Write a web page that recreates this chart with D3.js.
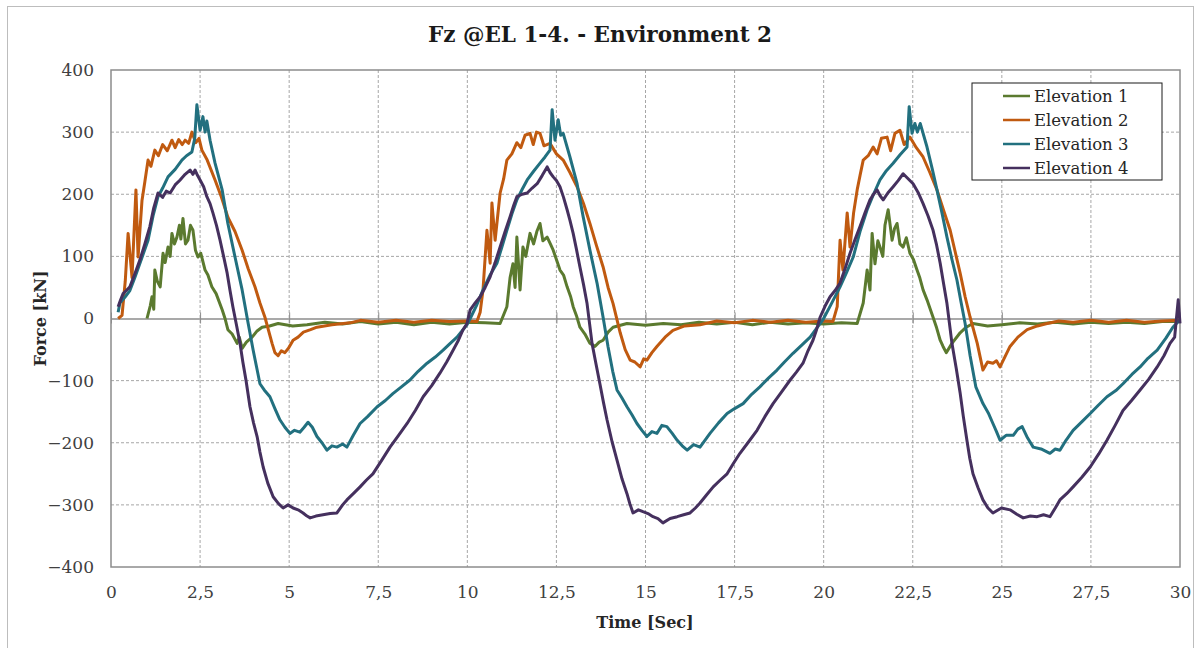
<!DOCTYPE html>
<html>
<head>
<meta charset="utf-8">
<script src="https://cdn.jsdelivr.net/npm/d3@7"></script>
<style>
  body { margin: 0; background: #fff; }
  text { font-family: "DejaVu Serif", serif; }
</style>
</head>
<body>
<script>
// Data: [time (s), force (kN)]
let elevation1 = [[1.01,0],[1.1,20],[1.15,35],[1.2,15],[1.23,78],[1.3,60],[1.38,51],[1.46,105],[1.52,90],[1.6,115],[1.66,100],[1.71,137],[1.78,120],[1.85,131],[1.92,150],[1.96,128],[2.02,161],[2.09,120],[2.16,126],[2.23,150],[2.3,142],[2.37,110],[2.44,99],[2.52,105],[2.64,78],[2.72,70],[2.83,51],[2.95,40],[3.12,14],[3.2,0],[3.28,-18],[3.4,-25],[3.54,-40],[3.6,-30],[3.68,-48],[3.8,-38],[3.96,-30],[4.1,-20],[4.24,-14],[4.45,-12],[4.69,-8],[5.1,-12],[5.5,-10],[6,-6],[6.5,-9],[7,-5],[7.5,-9],[8,-6],[8.5,-10],[9,-6],[9.5,-9],[10,-6],[10.5,-7],[10.92,-8],
  [11.11,19],[11.2,66],[11.28,88],[11.34,50],[11.39,131],[11.48,46],[11.56,115],[11.64,100],[11.76,137],[11.86,120],[11.95,140],[12.04,153],[12.12,125],[12.24,131],[12.33,120],[12.41,110],[12.5,95],[12.6,78],[12.7,70],[12.8,51],[12.9,35],[12.97,19],[13.06,5],[13.16,-14],[13.3,-25],[13.44,-40],[13.58,-45],[13.7,-38],[13.81,-35],[13.95,-22],[14.09,-14],[14.48,-8],[15,-11],[15.5,-8],[16,-10],[16.5,-6],[17,-9],[17.5,-6],[18,-10],[18.5,-6],[19,-9],[19.5,-7],[20,-9],[20.5,-7],[20.94,-8],
  [21.11,25],[21.22,78],[21.3,46],[21.36,137],[21.44,88],[21.52,125],[21.58,115],[21.66,100],[21.72,150],[21.81,175],[21.92,126],[21.99,145],[22.06,153],[22.14,120],[22.23,115],[22.32,130],[22.42,105],[22.52,95],[22.62,78],[22.7,65],[22.79,46],[22.9,30],[23.07,2],[23.17,-15],[23.27,-35],[23.35,-45],[23.44,-55],[23.6,-40],[23.83,-23],[24.0,-14],[24.19,-8],[24.6,-12],[25,-10],[25.5,-7],[26,-9],[26.5,-6],[27,-9],[27.5,-6],[28,-8],[28.5,-6],[29,-8],[29.5,-5],[30,-5]];

let elevation2 = [[0.2,0],[0.31,5],[0.4,60],[0.48,137],[0.59,66],[0.7,207],[0.76,99],[0.87,190],[0.95,220],[1.04,255],[1.12,245],[1.23,271],[1.33,262],[1.45,280],[1.58,270],[1.71,287],[1.8,275],[1.9,288],[2,280],[2.08,287],[2.18,282],[2.27,300],[2.38,283],[2.47,290],[2.55,271],[2.7,255],[2.92,223],[3.1,195],[3.28,163],[3.48,140],[3.68,110],[3.85,80],[4.04,51],[4.18,25],[4.32,2],[4.52,-40],[4.6,-55],[4.69,-60],[4.78,-52],[4.88,-55],[4.98,-48],[5.11,-35],[5.25,-30],[5.4,-22],[5.6,-18],[5.78,-14],[6.2,-10],[6.71,-7],[7,-3],[7.5,-6],[8,-3],[8.5,-6],[9,-3],[9.5,-5],[10,-4],[10.27,-5],
  [10.36,10],[10.44,46],[10.55,142],[10.64,89],[10.69,186],[10.78,126],[10.92,202],[11.02,225],[11.11,255],[11.25,265],[11.39,283],[11.5,275],[11.62,295],[11.76,298],[11.85,280],[11.94,300],[12.04,298],[12.15,278],[12.32,282],[12.5,265],[12.69,255],[12.88,235],[13.08,212],[13.26,185],[13.44,153],[13.62,118],[13.81,83],[13.95,50],[14.09,24],[14.29,-23],[14.43,-50],[14.57,-67],[14.7,-70],[14.85,-78],[14.95,-65],[15.04,-67],[15.18,-55],[15.32,-45],[15.55,-30],[15.77,-19],[16.1,-12],[16.53,-10],[17,-4],[17.5,-7],[18,-3],[18.5,-6],[19,-3],[19.5,-6],[20,-4],[20.26,-5],
  [20.38,19],[20.46,126],[20.54,78],[20.66,170],[20.74,115],[20.84,170],[20.94,207],[21.02,230],[21.11,255],[21.25,262],[21.39,276],[21.5,265],[21.62,290],[21.78,292],[21.88,270],[22.0,298],[22.14,303],[22.26,280],[22.42,292],[22.6,275],[22.79,260],[22.98,235],[23.18,207],[23.36,175],[23.55,142],[23.7,105],[23.83,73],[23.97,35],[24.11,2],[24.31,-40],[24.47,-83],[24.6,-70],[24.75,-72],[24.85,-68],[24.95,-78],[25.1,-60],[25.23,-45],[25.45,-30],[25.71,-18],[26,-12],[26.27,-8],[26.6,-4],[27,-6],[27.5,-3],[28,-6],[28.5,-3],[29,-6],[29.5,-4],[30,-3]];

let elevation3 = [[0.2,10],[0.25,25],[0.4,35],[0.53,45],[0.67,66],[0.85,95],[1.04,126],[1.18,165],[1.32,196],[1.45,210],[1.6,228],[1.8,240],[1.99,255],[2.12,262],[2.27,268],[2.35,290],[2.41,344],[2.5,303],[2.58,325],[2.64,300],[2.69,318],[2.78,287],[2.92,250],[3.12,207],[3.28,153],[3.48,99],[3.68,46],[3.85,-8],[3.99,-51],[4.18,-105],[4.3,-115],[4.46,-126],[4.6,-145],[4.74,-163],[4.88,-175],[5.02,-185],[5.15,-180],[5.3,-183],[5.42,-175],[5.53,-167],[5.65,-175],[5.78,-190],[5.92,-200],[6.06,-212],[6.2,-205],[6.34,-207],[6.5,-202],[6.62,-207],[6.8,-188],[6.99,-169],[7.2,-158],[7.47,-142],[7.7,-132],[7.91,-121],[8.15,-110],[8.39,-99],[8.62,-85],[8.87,-72],[9.1,-62],[9.32,-51],[9.52,-40],[9.71,-30],[9.99,-10],[10.08,0],
  [10.25,20],[10.44,46],[10.64,70],[10.83,89],[10.97,115],[11.11,142],[11.25,168],[11.39,191],[11.54,208],[11.68,223],[11.86,237],[12.04,250],[12.18,260],[12.32,271],[12.38,336],[12.46,287],[12.55,320],[12.62,295],[12.69,298],[12.88,260],[13.08,217],[13.25,164],[13.44,110],[13.64,57],[13.81,2],[13.95,-46],[14.08,-85],[14.2,-115],[14.34,-128],[14.48,-142],[14.62,-155],[14.76,-169],[14.9,-180],[15.04,-190],[15.18,-182],[15.32,-185],[15.46,-172],[15.6,-174],[15.75,-185],[15.89,-196],[16.03,-205],[16.17,-212],[16.35,-203],[16.53,-207],[16.81,-185],[17.05,-168],[17.29,-153],[17.5,-145],[17.74,-137],[17.98,-122],[18.21,-110],[18.45,-96],[18.69,-83],[18.9,-70],[19.14,-56],[19.4,-42],[19.62,-30],[19.8,-16],[19.98,-2],
  [20.2,22],[20.46,51],[20.65,75],[20.83,99],[21.02,140],[21.22,175],[21.4,200],[21.58,223],[21.76,238],[21.95,250],[22.15,264],[22.34,276],[22.4,341],[22.48,298],[22.56,314],[22.63,300],[22.71,314],[22.9,276],[23.05,240],[23.18,207],[23.32,170],[23.46,131],[23.6,95],[23.74,62],[23.86,25],[23.97,-8],[24.11,-60],[24.27,-110],[24.47,-137],[24.62,-152],[24.75,-169],[24.85,-182],[24.95,-196],[25.12,-188],[25.32,-188],[25.45,-178],[25.57,-174],[25.72,-192],[25.88,-207],[26.1,-210],[26.35,-217],[26.5,-210],[26.63,-212],[26.8,-196],[27,-180],[27.25,-166],[27.48,-153],[27.7,-140],[27.95,-126],[28.2,-116],[28.4,-105],[28.65,-90],[28.88,-78],[29.1,-64],[29.36,-51],[29.6,-32],[29.8,-14],[30,-2]];

let elevation4 = [[0.2,19],[0.27,30],[0.34,40],[0.43,45],[0.53,51],[0.67,72],[0.81,94],[0.95,120],[1.09,148],[1.2,178],[1.32,202],[1.45,195],[1.55,205],[1.66,202],[1.8,215],[1.94,223],[2.08,232],[2.22,239],[2.3,232],[2.36,239],[2.43,230],[2.5,223],[2.6,212],[2.69,196],[2.78,185],[2.86,170],[2.96,150],[3.06,126],[3.16,100],[3.26,73],[3.34,45],[3.42,19],[3.52,-10],[3.62,-40],[3.7,-70],[3.79,-100],[3.9,-142],[4.0,-168],[4.1,-190],[4.18,-215],[4.27,-239],[4.4,-265],[4.55,-287],[4.7,-298],[4.83,-305],[4.97,-300],[5.11,-305],[5.25,-308],[5.39,-313],[5.5,-318],[5.59,-321],[5.75,-318],[5.95,-316],[6.15,-314],[6.34,-313],[6.5,-300],[6.62,-292],[6.8,-282],[6.99,-271],[7.17,-260],[7.35,-250],[7.6,-228],[7.83,-207],[8.07,-188],[8.31,-169],[8.54,-148],[8.76,-126],[9.0,-108],[9.23,-88],[9.42,-70],[9.6,-51],[9.75,-35],[9.88,-18],[9.99,-8],[10.08,14],
  [10.22,25],[10.36,35],[10.5,50],[10.64,67],[10.78,90],[10.92,115],[11.06,140],[11.2,164],[11.3,182],[11.39,196],[11.54,200],[11.68,202],[11.82,210],[11.96,217],[12.1,230],[12.24,244],[12.32,235],[12.41,228],[12.5,222],[12.6,212],[12.7,195],[12.8,175],[12.88,158],[12.97,137],[13.06,112],[13.16,83],[13.26,55],[13.36,24],[13.5,-40],[13.6,-70],[13.72,-105],[13.82,-135],[13.92,-163],[14.06,-198],[14.2,-228],[14.34,-258],[14.48,-282],[14.56,-298],[14.65,-313],[14.8,-308],[14.93,-311],[15.07,-314],[15.21,-319],[15.35,-322],[15.49,-329],[15.69,-322],[15.89,-319],[16.07,-316],[16.25,-313],[16.4,-305],[16.53,-297],[16.7,-285],[16.9,-271],[17.1,-260],[17.29,-250],[17.47,-233],[17.65,-217],[17.9,-198],[18.13,-180],[18.35,-158],[18.58,-137],[18.82,-118],[19.06,-99],[19.24,-86],[19.42,-72],[19.56,-52],[19.7,-35],[19.8,-18],[19.9,2],
  [20.04,20],[20.18,35],[20.32,45],[20.46,57],[20.6,80],[20.74,105],[20.88,127],[21.02,148],[21.16,170],[21.3,191],[21.4,200],[21.5,207],[21.58,198],[21.67,191],[21.8,202],[21.95,212],[22.09,222],[22.23,233],[22.37,225],[22.51,217],[22.65,203],[22.79,185],[22.93,165],[23.07,142],[23.17,118],[23.27,89],[23.36,58],[23.46,24],[23.6,-40],[23.72,-80],[23.83,-120],[23.92,-158],[24.02,-196],[24.1,-225],[24.19,-250],[24.33,-272],[24.47,-292],[24.61,-305],[24.75,-313],[24.99,-305],[25.23,-308],[25.42,-315],[25.6,-321],[25.8,-318],[25.99,-319],[26.17,-316],[26.35,-319],[26.5,-305],[26.63,-292],[26.82,-282],[27,-271],[27.24,-256],[27.48,-239],[27.72,-218],[27.95,-196],[28.18,-172],[28.4,-148],[28.64,-132],[28.88,-115],[29.12,-98],[29.36,-78],[29.55,-60],[29.72,-40],[29.85,-30],[29.95,30],[30,-8]];

let seriesNames = ["Elevation 1", "Elevation 2", "Elevation 3", "Elevation 4"];
let xTicks = [0, 2.5, 5, 7.5, 10, 12.5, 15, 17.5, 20, 22.5, 25, 27.5, 30];
let yTicks = [-400, -300, -200, -100, 0, 100, 200, 300, 400];

let couleurs = ["#5b7a2f", "#c05a10", "#22707f", "#45305e"];
let series = [elevation1, elevation2, elevation3, elevation4];

let width = 1200;
let height = 648;
let marges = { top: 70, right: 20, bottom: 81, left: 111 };
let innerW = width - marges.left - marges.right;
let innerH = height - marges.top - marges.bottom;

let svg = d3.select("body").append("svg")
    .attr("width", width)
    .attr("height", height);

// Outer chart border
svg.append("rect")
    .attr("x", 7.5).attr("y", 6.5)
    .attr("width", 1186).attr("height", 660)
    .attr("fill", "none")
    .attr("stroke", "#bdbdbd");

let x = d3.scaleLinear().domain([0, 30]).range([0, innerW]);
let y = d3.scaleLinear().domain([-400, 400]).range([innerH, 0]);

let g = svg.append("g")
    .attr("transform", "translate(" + marges.left + "," + marges.top + ")");

// Gridlines
g.append("g")
    .selectAll("line")
    .data(xTicks.slice(1, -1))
    .enter().append("line")
    .attr("x1", d => x(d)).attr("x2", d => x(d))
    .attr("y1", 0).attr("y2", innerH)
    .attr("stroke", "#a6a6a6")
    .attr("stroke-dasharray", "3,2");

g.append("g")
    .selectAll("line")
    .data(yTicks.filter(d => d !== 0 && d !== 400 && d !== -400))
    .enter().append("line")
    .attr("x1", 0).attr("x2", innerW)
    .attr("y1", d => y(d)).attr("y2", d => y(d))
    .attr("stroke", "#a6a6a6")
    .attr("stroke-dasharray", "3,2");

// Plot area frame
g.append("rect")
    .attr("width", innerW).attr("height", innerH)
    .attr("fill", "none")
    .attr("stroke", "#8c8c8c")
    .attr("stroke-width", 1.5);

// Zero axis with cross ticks
let axeZero = d3.axisBottom(x).tickValues(xTicks).tickSizeInner(6).tickSizeOuter(0).tickFormat("");
g.append("g")
    .attr("transform", "translate(0," + y(0) + ")")
    .call(axeZero)
    .call(a => a.select(".domain").attr("stroke", "#8c8c8c").attr("stroke-width", 1.5))
    .call(a => a.selectAll(".tick line").attr("stroke", "#8c8c8c").attr("y1", -6).attr("y2", 5));

// Tick labels
let fmt = d => String(d).replace(".", ",");
g.append("g")
    .attr("transform", "translate(0," + innerH + ")")
    .call(d3.axisBottom(x).tickValues(xTicks).tickSize(0).tickPadding(19).tickFormat(fmt))
    .call(a => a.select(".domain").remove())
    .call(a => a.selectAll("text").attr("font-family", "DejaVu Serif").attr("font-size", 17).attr("fill", "#404040"));

g.append("g")
    .call(d3.axisLeft(y).tickValues(yTicks).tickSize(0).tickPadding(17))
    .call(a => a.select(".domain").remove())
    .call(a => a.selectAll("text").attr("font-family", "DejaVu Serif").attr("font-size", 17).attr("fill", "#404040"));

// Series
let ligne = d3.line().x(d => x(d[0])).y(d => y(d[1]));
g.append("g")
    .selectAll("path")
    .data(series)
    .enter().append("path")
    .attr("d", ligne)
    .attr("fill", "none")
    .attr("stroke", (d, i) => couleurs[i])
    .attr("stroke-width", 3)
    .attr("stroke-linejoin", "round");

// Titles
svg.append("text")
    .attr("x", 600).attr("y", 42)
    .attr("text-anchor", "middle")
    .attr("font-weight", "bold")
    .attr("font-size", 21.5)
    .attr("fill", "#1a1a1a")
    .text("Fz @EL 1-4. - Environment 2");

svg.append("text")
    .attr("x", 645).attr("y", 628)
    .attr("text-anchor", "middle")
    .attr("font-weight", "bold")
    .attr("font-size", 16)
    .attr("fill", "#262626")
    .text("Time [Sec]");

svg.append("text")
    .attr("transform", "translate(46," + (marges.top + y(0)) + ") rotate(-90)")
    .attr("text-anchor", "middle")
    .attr("font-weight", "bold")
    .attr("font-size", 16)
    .attr("fill", "#262626")
    .text("Force [kN]");

// Legend
let legende = svg.append("g").attr("transform", "translate(972,83)");
legende.append("rect")
    .attr("width", 190).attr("height", 97)
    .attr("fill", "#fff")
    .attr("stroke", "#1a1a1a");
let items = legende.selectAll(".item")
    .data(seriesNames)
    .enter().append("g")
    .attr("class", "item")
    .attr("transform", (d, i) => "translate(0," + (13 + i * 24) + ")");
items.append("line")
    .attr("x1", 31).attr("x2", 58)
    .attr("stroke", (d, i) => couleurs[i])
    .attr("stroke-width", 2.5);
items.append("text")
    .attr("x", 62).attr("y", 6)
    .attr("font-size", 16.5)
    .attr("fill", "#262626")
    .text(d => d);
</script>
</body>
</html>
